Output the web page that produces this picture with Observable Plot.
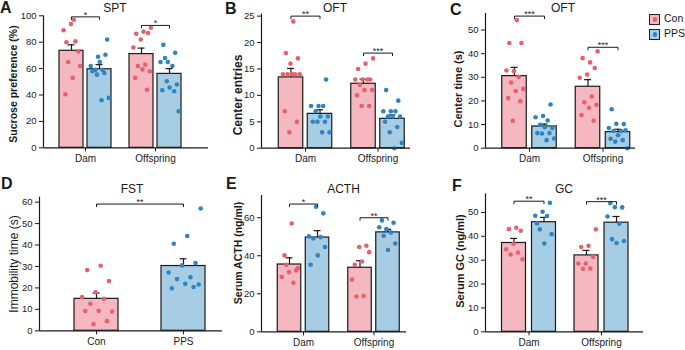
<!DOCTYPE html>
<html><head><meta charset="utf-8">
<script src="https://cdn.jsdelivr.net/npm/d3@7"></script>
<script src="https://cdn.jsdelivr.net/npm/@observablehq/plot@0.6"></script>
<style>
body{margin:0;background:#fff;font-family:"Liberation Sans",Arial,sans-serif;color:#1a1a1a;}
#wrap{position:relative;width:685px;height:350px;overflow:hidden;background:#fff;}
.letter{position:absolute;font-weight:bold;font-size:16px;line-height:1;}
.title{position:absolute;font-size:12px;line-height:1;transform:translateX(-50%);white-space:nowrap;}
.ylab{position:absolute;font-size:11px;font-weight:bold;line-height:1;white-space:nowrap;transform:translate(-50%,-50%) rotate(-90deg);}
.leg{position:absolute;font-size:10.5px;line-height:1;}
.box{position:absolute;width:9px;height:9px;border:1px solid #222;}
.box i{position:absolute;left:2.5px;top:2.5px;width:4.5px;height:4.5px;border-radius:50%;}
</style></head><body><div id="wrap"></div>
<script>
// ---------- data ----------
const groups2 = ["Dam", "Offspring"];
const groupsFST = ["Con", "PPS"];
const conditions = ["Con", "PPS"];
const panelLetters = ["A", "B", "C", "D", "E", "F"];
const panelTitles = ["SPT", "OFT", "OFT", "FST", "ACTH", "GC"];
const yLabels = ["Sucrose preference (%)", "Center entries", "Center time (s)", "Immobility time (s)", "Serum ACTH (ng/ml)", "Serum GC (ng/ml)"];

// bar order: Con-Dam, PPS-Dam, Con-Offspring, PPS-Offspring
// A: SPT
const sptMean = [73.5, 59.5, 71, 56];
const sptSem = [4.5, 3.5, 4.5, 4];
const sptConDam = [97, 80, 73, 93.7, 89, 80.6, 65, 62, 53, 40.6];
const sptPpsDam = [70.5, 69, 62, 59, 59, 82, 65, 58, 56.7, 55.4, 37.8, 36];
const sptConOff = [91, 88, 86.4, 87, 82, 76, 63, 62, 58, 59.4, 53, 44];
const sptPpsOff = [78, 72, 65, 65, 62, 68, 48, 45.6, 43.6, 42.8, 50.4, 27.7];
const sptTicks = [0, 20, 40, 60, 80, 100];
const sptSig = [{g: 0, y: 99.2, s: "*"}, {g: 1, y: 92.7, s: "*"}];

// B: OFT center entries
const entMean = [13.4, 6.5, 12.2, 5.56];
const entSem = [1.7, 0.76, 0.87, 0.74];
const entConDam = [24, 18, 17, 16, 14, 14, 14, 14, 14, 7, 5, 3];
const entPpsDam = [13, 8, 8, 8, 7, 6, 6, 5, 5, 5, 3, 3];
const entConOff = [17, 16, 15, 13, 13, 13, 13, 12, 11, 11, 10, 8, 8];
const entPpsOff = [11, 9, 7, 7, 7, 6, 6, 6, 5, 4, 3, 1, 0];
const entTicks = [0, 5, 10, 15, 20, 25];
const entSig = [{g: 0, y: 25, s: "**"}, {g: 1, y: 18, s: "***"}];

// C: OFT center time
const ctMean = [30.5, 9.2, 26, 6.8];
const ctSem = [3.7, 1.0, 3.0, 1.2];
const ctConDam = [54.2, 44.5, 44.5, 32.6, 32.9, 30.2, 27.8, 25.1, 24.2, 21.2, 19.9, 11.6];
const ctPpsDam = [18.5, 13.6, 13.1, 11.7, 9.9, 8.6, 8.9, 6.4, 6.4, 6.2, 4.1, 3.4];
const ctConOff = [41, 36.3, 38.1, 33.9, 31.2, 29.8, 21.9, 19.4, 18.4, 17.1, 14, 11.6];
const ctPpsOff = [16.5, 10.2, 10.3, 8.5, 7.3, 7.3, 7.6, 5.5, 4, 3.4, 2.8, 0];
const ctTicks = [0, 10, 20, 30, 40, 50];
const ctSig = [{g: 0, y: 55.9, s: "***"}, {g: 1, y: 42.7, s: "***"}];

// D: FST
const fstMean = [14.9, 30.2];
const fstSem = [2.7, 3.4];
const fstCon = [30.3, 28.3, 23.2, 18, 15.7, 14.9, 12.6, 9, 9.3, 9.2, 4.5, 3.1];
const fstPps = [57, 44.2, 40.6, 31.6, 30.5, 27.2, 25, 24.1, 21.6, 21.9, 19.8, 20.4];
const fstTicks = [0, 10, 20, 30, 40, 50, 60];
const fstSig = [{y: 59.1, s: "**"}];

// E: ACTH
const acthMean = [35.4, 49.6, 33.7, 52.3];
const acthSem = [3.5, 3.6, 3.7, 1.6];
const acthConDam = [57, 40.2, 32.3, 31.4, 28.8, 25.8, 35.3, 33.5];
const acthPpsDam = [62.3, 65.8, 50.2, 49.8, 49.1, 44.6, 40.2, 35.3];
const acthConOff = [41.9, 37, 35.3, 45.3, 44.6, 27.5, 18.8, 18.6];
const acthPpsOff = [58.6, 57.4, 54, 55, 52.3, 50.5, 46.4, 43];
const acthTicks = [0, 20, 40, 60];
const acthSig = [{g: 0, y: 67.2, s: "*"}, {g: 1, y: 60, s: "**"}];

// F: GC
const gcMean = [37.2, 45.9, 32, 45.7];
const gcSem = [1.9, 2.0, 2.1, 2.6];
const gcConDam = [43.6, 43, 42.3, 36.9, 34.6, 33.2, 32.4, 30.4];
const gcPpsDam = [54, 50.3, 48.6, 48.5, 42.9, 40.9, 37, 45.4];
const gcConOff = [42.9, 36, 35.5, 31.4, 28.6, 28.6, 26.5, 26.4];
const gcPpsOff = [53.9, 52.1, 52.2, 48.3, 45.3, 38.8, 38, 37.2];
const gcTicks = [0, 10, 20, 30, 40, 50];
const gcSig = [{g: 0, y: 54.7, s: "**"}, {g: 1, y: 54.5, s: "***"}];

// ---------- style ----------
const conFill = "#f5b7c0", conDot = "#e6616b";
const ppsFill = "#a7cde4", ppsDot = "#2f84c2";
const ink = "#1a1a1a";
const FONT = "'Liberation Sans', Arial, sans-serif";

function twoGroupBars(mean, sem, pts) {
  return mean.map((m, i) => ({g: Math.floor(i / 2), cond: conditions[i % 2], side: i % 2 ? 1 : -1, mean: m, sem: sem[i], pts: pts[i]}));
}

function panel(cfg) {
  const {W, H, fl, fr, yTop, y0, ymax, c1, c2, bw, off, ticks, groups, bars, sig, sigFrom, sigTo} = cfg;
  const unit = c2 - c1;
  const xd = [(fl - c1) / unit, (fr - c1) / unit];
  const hw = bw / 2 / unit;
  const cap = 3.5 / unit;
  const rows = bars.map(b => ({...b, xc: b.g + b.side * off / unit}));
  const pts = rows.flatMap(r => r.pts.map((v, i) => {
    const f = ((i + 1) * 0.618034 + r.g * 0.37 + (r.side > 0 ? 0.19 : 0)) % 1;
    return {x: r.xc + (f - 0.5) * 0.8 * bw / unit, v, cond: r.cond};
  }));
  const ppu = (y0 - yTop) / ymax;
  const tickD = 2.5 / ppu;
  const brLines = sig.flatMap((s, k) => {
    const a = sigFrom(s), b = sigTo(s);
    return [{k, x: a, y: s.y - tickD}, {k, x: a, y: s.y}, {k, x: b, y: s.y}, {k, x: b, y: s.y - tickD}];
  });
  const brText = sig.map(s => ({x: (sigFrom(s) + sigTo(s)) / 2, y: s.y, s: s.s}));
  const byCond = c => rows.filter(r => r.cond === c);
  const ptsCond = c => pts.filter(p => p.cond === c);
  return Plot.plot({
    width: W, height: H,
    marginLeft: fl, marginRight: W - fr, marginTop: yTop, marginBottom: H - y0,
    x: {domain: xd},
    y: {domain: [0, ymax]},
    style: {fontFamily: FONT, fontSize: "10px", color: ink, background: "transparent", overflow: "visible"},
    marks: [
      Plot.rect(byCond("Con"), {x1: d => d.xc - hw, x2: d => d.xc + hw, y1: 0, y2: "mean", fill: conFill, stroke: ink, strokeWidth: 1.2}),
      Plot.rect(byCond("PPS"), {x1: d => d.xc - hw, x2: d => d.xc + hw, y1: 0, y2: "mean", fill: ppsFill, stroke: ink, strokeWidth: 1.2}),
      Plot.ruleX(rows, {x: "xc", y1: "mean", y2: d => d.mean + d.sem, stroke: ink, strokeWidth: 1.2}),
      Plot.ruleY(rows, {y: d => d.mean + d.sem, x1: d => d.xc - cap, x2: d => d.xc + cap, stroke: ink, strokeWidth: 1.2}),
      Plot.dot(ptsCond("Con"), {x: "x", y: "v", r: 2.3, fill: conDot, stroke: null}),
      Plot.dot(ptsCond("PPS"), {x: "x", y: "v", r: 2.3, fill: ppsDot, stroke: null}),
      Plot.line(brLines, {x: "x", y: "y", z: "k", stroke: ink, strokeWidth: 1}),
      Plot.text(brText, {x: "x", y: "y", text: "s", fontSize: 9, lineAnchor: "bottom", dy: 1, fill: ink}),
      Plot.ruleY([0], {stroke: ink, strokeWidth: 1.2}),
      Plot.ruleX([xd[0]], {stroke: ink, strokeWidth: 1.2}),
      Plot.axisY({ticks, tickSize: 4, tickPadding: 3, label: null, fontSize: 9.5, stroke: ink}),
      Plot.axisX({ticks: [0, 1], tickFormat: i => groups[i], tickSize: 4, tickPadding: 3, label: null, fontSize: 10, stroke: ink})
    ]
  });
}

const wrap = document.getElementById("wrap");
function place(svg, left, top) {
  svg.style.position = "absolute";
  svg.style.left = left + "px";
  svg.style.top = top + "px";
  wrap.appendChild(svg);
}

place(panel({W: 225, H: 172, fl: 43, fr: 208, yTop: 15.3, y0: 147.3, ymax: 100, c1: 85, c2: 155, bw: 24, off: 14,
  ticks: sptTicks, groups: groups2,
  bars: twoGroupBars(sptMean, sptSem, [sptConDam, sptPpsDam, sptConOff, sptPpsOff]), sig: sptSig,
  sigFrom: s => s.g - 14 / 70, sigTo: s => s.g + 14 / 70}), 0, 0);

place(panel({W: 225, H: 172, fl: 36, fr: 185, yTop: 13.5, y0: 147.7, ymax: 25.4, c1: 80, c2: 152.5, bw: 24.5, off: 14.5,
  ticks: entTicks, groups: groups2,
  bars: twoGroupBars(entMean, entSem, [entConDam, entPpsDam, entConOff, entPpsOff]), sig: entSig,
  sigFrom: s => s.g - 14.5 / 72.5, sigTo: s => s.g + 14.5 / 72.5}), 225, 0);

place(panel({W: 235, H: 172, fl: 35, fr: 185, yTop: 13, y0: 147.7, ymax: 57, c1: 79, c2: 152.5, bw: 24.5, off: 15,
  ticks: ctTicks, groups: groups2,
  bars: twoGroupBars(ctMean, ctSem, [ctConDam, ctPpsDam, ctConOff, ctPpsOff]), sig: ctSig,
  sigFrom: s => s.g - 15 / 73.5, sigTo: s => s.g + 15 / 73.5}), 450, 0);

place(panel({W: 225, H: 178, fl: 39, fr: 222, yTop: 24.7, y0: 158.3, ymax: 62.3, c1: 96, c2: 183, bw: 44, off: 0,
  ticks: fstTicks, groups: groupsFST,
  bars: fstMean.map((m, i) => ({g: i, cond: conditions[i], side: 0, mean: m, sem: fstSem[i], pts: [fstCon, fstPps][i]})),
  sig: fstSig, sigFrom: s => 0, sigTo: s => 1}), 0, 172);

place(panel({W: 225, H: 178, fl: 36, fr: 181, yTop: 23, y0: 159.3, ymax: 71.7, c1: 78, c2: 148.5, bw: 23.5, off: 14,
  ticks: acthTicks, groups: groups2,
  bars: twoGroupBars(acthMean, acthSem, [acthConDam, acthPpsDam, acthConOff, acthPpsOff]), sig: acthSig,
  sigFrom: s => s.g - 14 / 70.5, sigTo: s => s.g + 14 / 70.5}), 225, 172);

place(panel({W: 235, H: 178, fl: 35, fr: 193, yTop: 21.3, y0: 159.3, ymax: 57.8, c1: 78.5, c2: 151, bw: 24, off: 15,
  ticks: gcTicks, groups: groups2,
  bars: twoGroupBars(gcMean, gcSem, [gcConDam, gcPpsDam, gcConOff, gcPpsOff]), sig: gcSig,
  sigFrom: s => s.g - 15 / 72.5, sigTo: s => s.g + 15 / 72.5}), 450, 172);

// panel letters, titles, y-axis labels
const letterPos = [[0, 0], [225, 1], [450, 2], [1, 176], [226, 176], [452, 178]];
const titlePos = [[115, 2], [335, 2], [563, 2], [132, 183], [343.5, 182.5], [564, 182.5]];
const yLabPos = [[13, 84, 10.5, "bold"], [238, 95, 12, "bold"], [458, 89, 11, "bold"], [14, 263.5, 12, "normal"], [238, 253, 10.5, "bold"], [460, 261, 11, "bold"]];
panelLetters.forEach((t, i) => {
  const d = document.createElement("div"); d.className = "letter"; d.textContent = t;
  d.style.left = letterPos[i][0] + "px"; d.style.top = letterPos[i][1] + "px"; wrap.appendChild(d);
  const e = document.createElement("div"); e.className = "title"; e.textContent = panelTitles[i];
  e.style.left = titlePos[i][0] + "px"; e.style.top = titlePos[i][1] + "px"; wrap.appendChild(e);
  const y = document.createElement("div"); y.className = "ylab"; y.textContent = yLabels[i];
  const [lx, ly, fs, fw] = yLabPos[i];
  y.style.left = lx + "px"; y.style.top = ly + "px"; y.style.fontSize = fs + "px"; y.style.fontWeight = fw;
  wrap.appendChild(y);
});
// legend
conditions.forEach((c, i) => {
  const b = document.createElement("div"); b.className = "box";
  b.style.left = "649px"; b.style.top = (13.5 + i * 15) + "px";
  b.style.background = i ? ppsFill : conFill;
  const dot = document.createElement("i"); dot.style.background = i ? ppsDot : conDot; b.appendChild(dot);
  wrap.appendChild(b);
  const t = document.createElement("div"); t.className = "leg"; t.textContent = c;
  t.style.left = "664px"; t.style.top = (13 + i * 15) + "px"; wrap.appendChild(t);
});
</script>
</body></html>
